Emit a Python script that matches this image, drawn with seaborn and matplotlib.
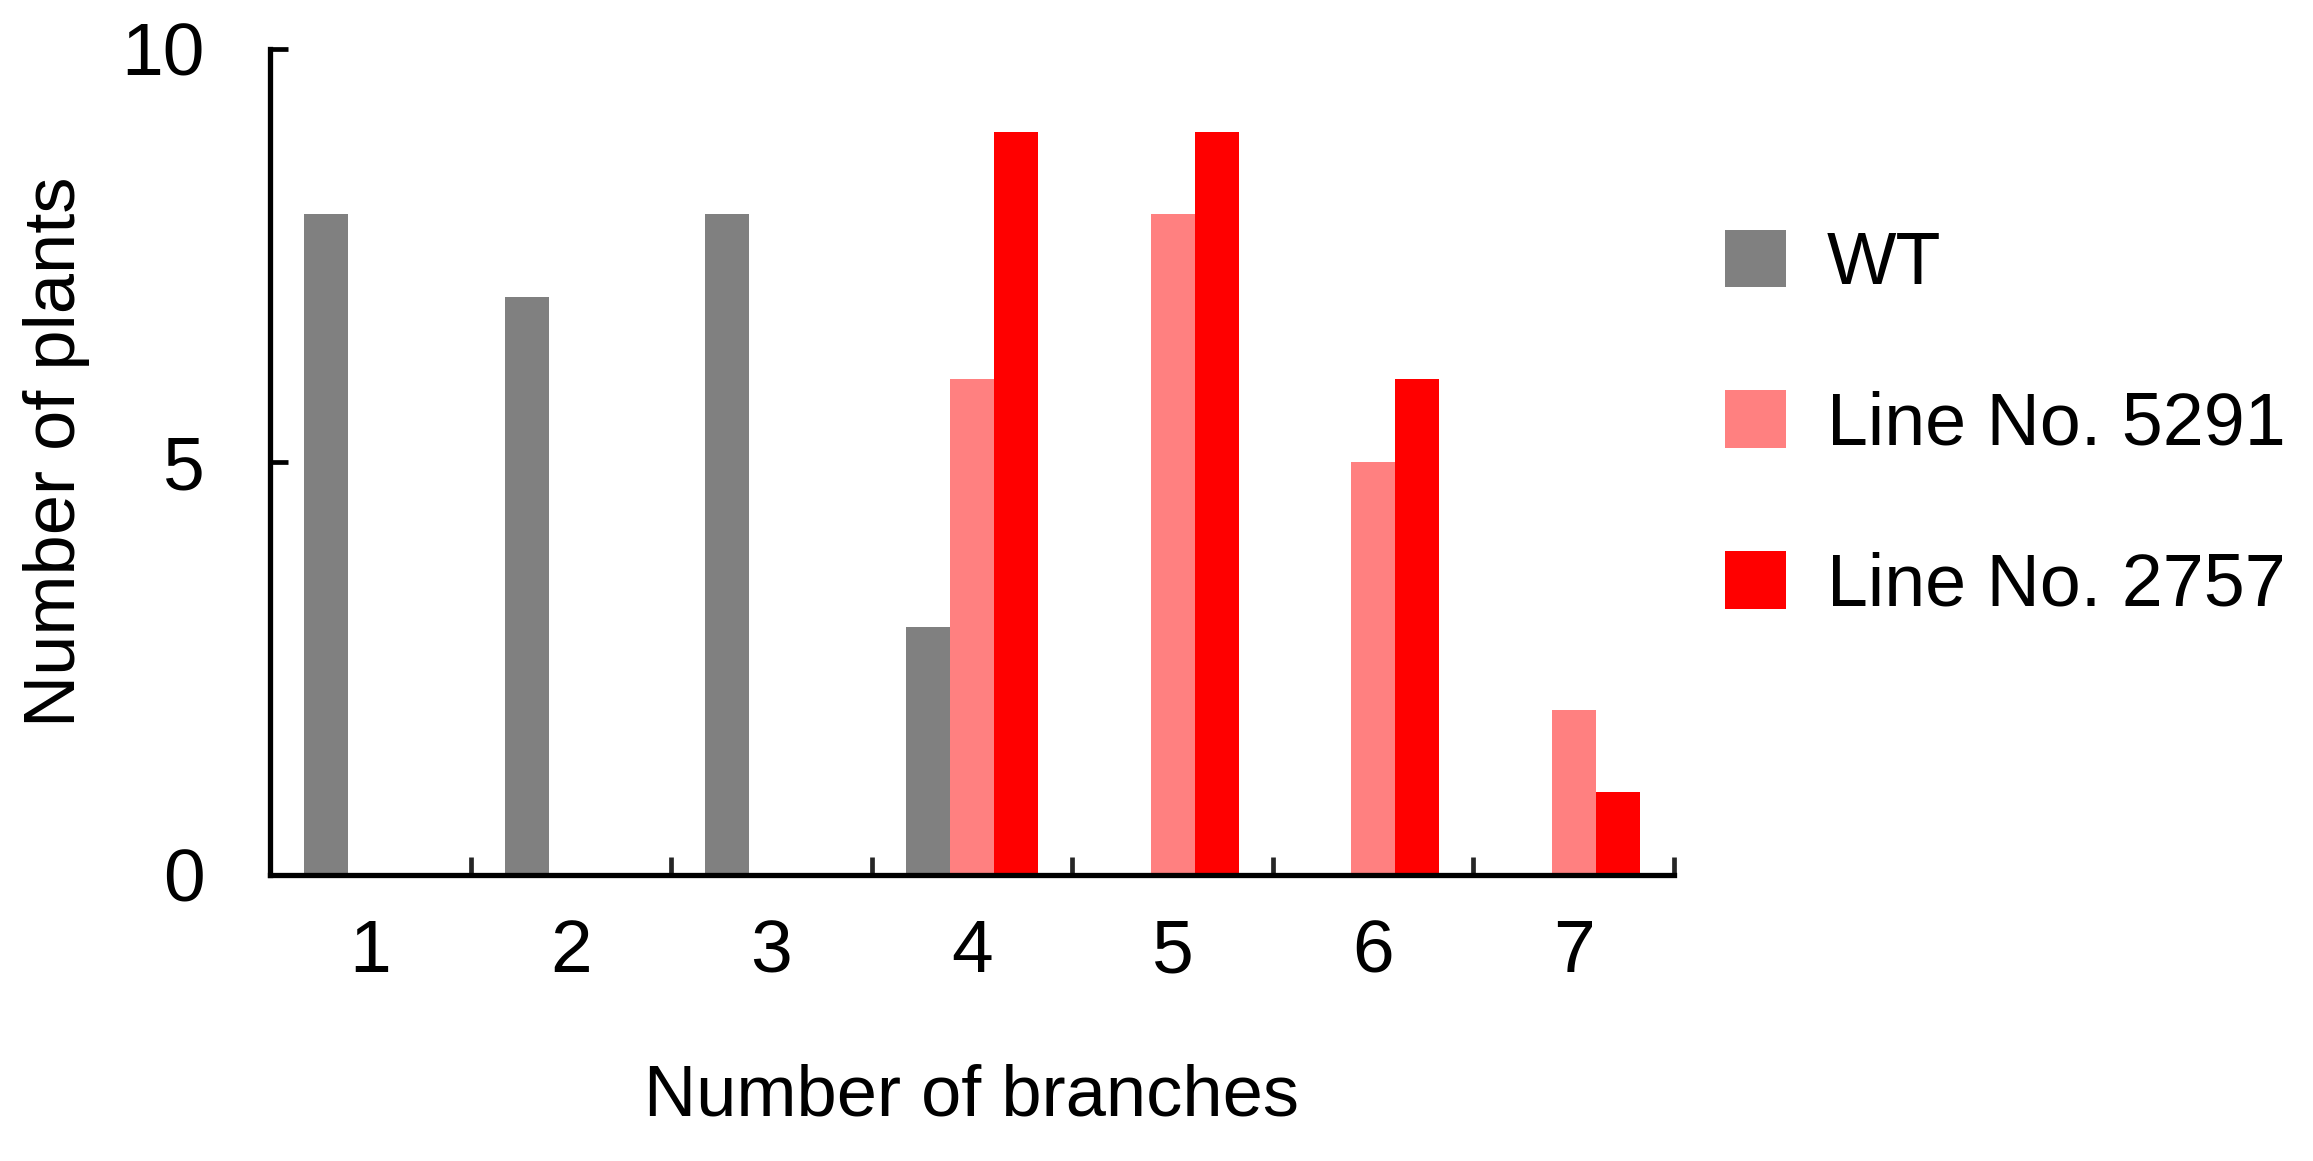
import matplotlib
matplotlib.use("Agg")
import matplotlib.pyplot as plt
from matplotlib.patches import Patch
import seaborn as sns
import pandas as pd

# ---- data ----
branches = ["1", "2", "3", "4", "5", "6", "7"]
series_names = ["WT", "Line No. 5291", "Line No. 2757"]
wt_counts = [8, 7, 8, 3, 0, 0, 0]
line5291_counts = [0, 0, 0, 6, 8, 5, 2]
line2757_counts = [0, 0, 0, 9, 9, 6, 1]
colors = ["#808080", "#FF8080", "#FF0000"]
y_ticks = [0, 5, 10]

rows = []
for name, vals in zip(series_names, [wt_counts, line5291_counts, line2757_counts]):
    for b, v in zip(branches, vals):
        rows.append({"branches": b, "line": name, "count": v})
df = pd.DataFrame(rows)

sns.set_theme(style="white")
plt.rcParams["font.family"] = ["Liberation Sans", "DejaVu Sans"]
plt.rcParams["text.color"] = "black"

fig = plt.figure(figsize=(23.13, 11.61), dpi=100)
ax = fig.add_axes([270 / 2313, 1 - 875 / 1161, (1674 - 270) / 2313, (875 - 49) / 1161])

palette = dict(zip(series_names, colors))
sns.barplot(data=df, x="branches", y="count", hue="line", order=branches,
            hue_order=series_names, palette=palette, width=0.66, gap=0,
            dodge=True, linewidth=0, saturation=1, legend=False, ax=ax,
            errorbar=None)

ax.set_xlim(-0.5, len(branches) - 0.5)
ax.set_ylim(0, 10)
ax.set_yticks(y_ticks)
ax.set_yticklabels([str(t) for t in y_ticks])

for s in ["top", "right"]:
    ax.spines[s].set_visible(False)
for s in ["left", "bottom"]:
    ax.spines[s].set_linewidth(3.8)
    ax.spines[s].set_color("black")
    ax.spines[s].set_capstyle("projecting")

ax.tick_params(axis="y", direction="in", length=13, width=3.4, pad=47,
               labelsize=54, colors="black", left=True)
ax.tick_params(axis="x", which="major", length=0, pad=31, labelsize=54,
               colors="black")
ax.set_xticks([i + 0.5 for i in range(len(branches))], minor=True)
ax.tick_params(axis="x", which="minor", direction="in", length=13, width=3.4,
               bottom=True)

ax.set_xlabel("Number of branches", fontsize=52, color="black")
ax.set_ylabel("Number of plants", fontsize=52, color="black")
ax.xaxis.set_label_coords(0.5, -0.228)
ax.xaxis.label.set_verticalalignment("top")
ax.yaxis.label.set_verticalalignment("center")
ax.yaxis.set_label_coords(-0.152, 0.513)

handles = [Patch(facecolor=c, edgecolor="none") for c in colors]
leg = ax.legend(handles, series_names, loc="center left",
                bbox_to_anchor=(1725 / 2313, 1 - 425 / 1161),
                bbox_transform=fig.transFigure, frameon=False,
                prop={"size": 53},
                handlelength=0.83, handleheight=0.83, handletextpad=0.55,
                labelspacing=1.24, borderpad=0, borderaxespad=0)
for t in leg.get_texts():
    t.set_color("black")

fig.savefig("out.png", dpi=100)
